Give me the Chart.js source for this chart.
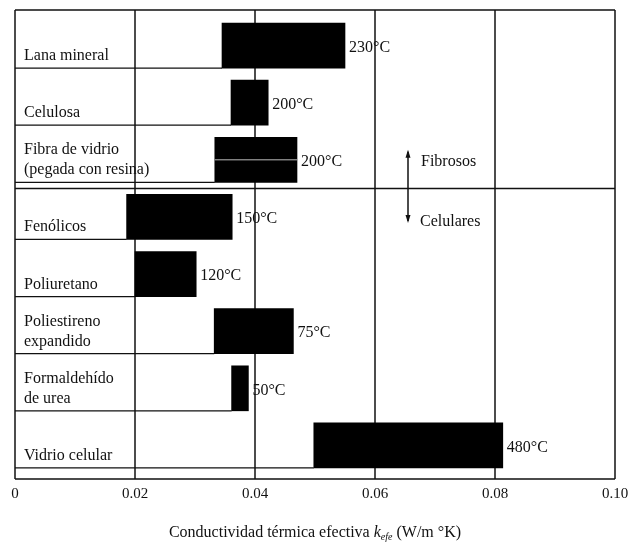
<!DOCTYPE html>
<html>
<head>
<meta charset="utf-8">
<script src="https://cdn.jsdelivr.net/npm/chart.js@4"></script>
<style>
body{margin:0;background:#fff;}
</style>
</head>
<body>
<canvas id="kChart" width="633" height="544"></canvas>
<script>

const materials = [
["Lana mineral"],
["Celulosa"],
["Fibra de vidrio","(pegada con resina)"],
["Fenólicos"],
["Poliuretano"],
["Poliestireno","expandido"],
["Formaldehído","de urea"],
["Vidrio celular"]
];

const kMin = [0.0345, 0.036, 0.0333, 0.0186, 0.020, 0.0332, 0.0361, 0.0498];
const kMax = [0.055, 0.0422, 0.047, 0.0362, 0.0302, 0.0464, 0.0389, 0.0813];

const maxTemp = ["230°C","200°C","200°C","150°C","120°C","75°C","50°C","480°C"];

const xTicks = [0, 0.02, 0.04, 0.06, 0.08, 0.10];

const serif = "'Liberation Serif', 'DejaVu Serif', serif";
const ink = "#111";


// frame, grid and row lines, then the texts
const drawing = {
id:"drawing",

beforeDatasetsDraw(chart){

const ctx = chart.ctx;
const x = chart.scales.x;
const y = chart.scales.y;
const top = chart.chartArea.top - 7;
const bottom = chart.chartArea.bottom + 5;
const bars = chart.getDatasetMeta(0).data;

ctx.save();
ctx.strokeStyle = ink;
ctx.lineWidth = 1.5;

xTicks.forEach(v => {
ctx.beginPath();
ctx.moveTo(x.getPixelForValue(v), top);
ctx.lineTo(x.getPixelForValue(v), bottom);
ctx.stroke();
});

ctx.beginPath();
ctx.moveTo(x.getPixelForValue(0), top);
ctx.lineTo(x.getPixelForValue(0.10), top);
ctx.moveTo(x.getPixelForValue(0), bottom);
ctx.lineTo(x.getPixelForValue(0.10), bottom);
ctx.stroke();

// divider between fibrosos and celulares
const mid = (y.getPixelForValue(2) + y.getPixelForValue(3)) / 2;
ctx.beginPath();
ctx.moveTo(x.getPixelForValue(0), mid);
ctx.lineTo(x.getPixelForValue(0.10), mid);
ctx.stroke();

// row floor line up to the bar
ctx.lineWidth = 1.2;
bars.forEach((b, i) => {
const yb = b.y + b.height / 2;
ctx.beginPath();
ctx.moveTo(x.getPixelForValue(0), yb);
ctx.lineTo(x.getPixelForValue(kMin[i]), yb);
ctx.stroke();
});

ctx.restore();

},

afterDatasetsDraw(chart){

const ctx = chart.ctx;
const x = chart.scales.x;
const bars = chart.getDatasetMeta(0).data;

ctx.save();

// light seam across the glass fibre bar
const fb = bars[2];
ctx.strokeStyle = "#bbb";
ctx.lineWidth = 1;
ctx.beginPath();
ctx.moveTo(x.getPixelForValue(kMin[2]), fb.y);
ctx.lineTo(x.getPixelForValue(kMax[2]), fb.y);
ctx.stroke();

ctx.fillStyle = ink;
ctx.font = "16px " + serif;
ctx.textBaseline = "alphabetic";

bars.forEach((b, i) => {

const yb = b.y + b.height / 2;
const lines = materials[i];

ctx.textAlign = "left";
lines.forEach((t, j) => {
ctx.fillText(t, x.getPixelForValue(0) + 9, yb - 8 - (lines.length - 1 - j) * 20);
});

ctx.textBaseline = "middle";
ctx.fillText(maxTemp[i], x.getPixelForValue(kMax[i]) + 4, b.y + 2);
ctx.textBaseline = "alphabetic";

});

// arrow fibrosos / celulares
const ax = x.getPixelForValue(0.0655);
const ya = bars[2].y - 8;
const yc = bars[3].y + 4;

ctx.strokeStyle = ink;
ctx.lineWidth = 1.5;
ctx.beginPath();
ctx.moveTo(ax, ya);
ctx.lineTo(ax, yc);
ctx.stroke();

ctx.beginPath();
ctx.moveTo(ax, ya - 2);
ctx.lineTo(ax - 2.5, ya + 6);
ctx.lineTo(ax + 2.5, ya + 6);
ctx.closePath();
ctx.moveTo(ax, yc + 2);
ctx.lineTo(ax - 2.5, yc - 6);
ctx.lineTo(ax + 2.5, yc - 6);
ctx.closePath();
ctx.fill();

ctx.textAlign = "left";
ctx.fillText("Fibrosos", ax + 13, bars[2].y + 6);
ctx.fillText("Celulares", ax + 12, bars[3].y + 9);

// axis title with italic k and subscript
const parts = [
["Conductividad térmica efectiva ", "16px " + serif, 0],
["k", "italic 16px " + serif, 0],
["efe", "italic 10px " + serif, 3],
[" (W/m °K)", "16px " + serif, 0]
];

let w = 0;
parts.forEach(p => { ctx.font = p[1]; w += ctx.measureText(p[0]).width; });

let tx = (x.getPixelForValue(0) + x.getPixelForValue(0.10)) / 2 - w / 2;
const ty = 537;

parts.forEach(p => {
ctx.font = p[1];
ctx.fillText(p[0], tx, ty + p[2]);
tx += ctx.measureText(p[0]).width;
});

ctx.restore();

}
};


new Chart(document.getElementById("kChart"), {

type:"bar",

data:{
labels: materials.map(m => m.join(" ")),
datasets:[
{
label:"k efectiva",
data: kMin.map((v, i) => [v, kMax[i]]),
backgroundColor:"#000",
borderWidth:0,
borderSkipped:false,
barThickness:45
}
]
},

options:{
indexAxis:"y",
responsive:false,
animation:false,
layout:{
padding:{ left:15, right:18, top:17, bottom:38 }
},
plugins:{
legend:{ display:false },
tooltip:{ enabled:false }
},
scales:{
x:{
min:0,
max:0.10,
grid:{ display:false },
border:{ display:false },
afterBuildTicks(axis){
axis.ticks = xTicks.map(v => ({ value:v }));
},
ticks:{
padding:3,
color:ink,
font:{ family:serif, size:15 },
callback(v){
return v === 0 ? "0" : v.toFixed(2);
}
}
},
y:{
display:false,
grid:{ display:false }
}
}
},

plugins:[drawing]

});

</script>
</body>
</html>
